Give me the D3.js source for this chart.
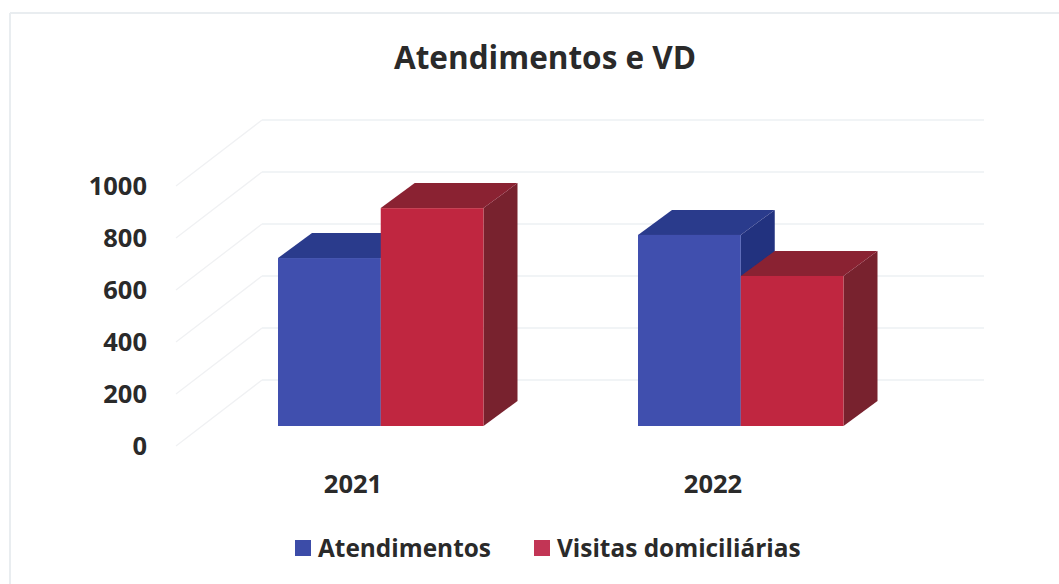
<!DOCTYPE html>
<html><head><meta charset="utf-8">
<script src="https://cdn.jsdelivr.net/npm/d3@7"></script>
<style>html,body{margin:0;padding:0;background:#fff}svg{display:block}
text{font-family:"Open Sans","Noto Sans",sans-serif;fill:#2a2a2a}</style>
</head><body><svg id="c" width="1059" height="584"></svg>
<script>
const title = "Atendimentos e VD";
const categories = ["2021", "2022"];
const seriesNames = ["Atendimentos", "Visitas domiciliárias"];
const atendimentos = [646, 735];
const visitas = [838, 577];
const yTicks = [0, 200, 400, 600, 800, 1000];
const faceColors = ["#3f4fae", "#c0283f"];
const topColors = ["#2c3b8c", "#8a2233"];
const sideColors = ["#22307f", "#78202e"];
const legendColors = ["#3c4ca8", "#c23555"];

const svg = d3.select("#c");
const frame = svg.append("g").attr("stroke","#e9edf0").attr("stroke-width",2);
frame.append("line").attr("x1",10).attr("x2",1059).attr("y1",13).attr("y2",13);
frame.append("line").attr("x1",10).attr("x2",10).attr("y1",13).attr("y2",584);

const defs = svg.append("defs");
defs.append("filter").attr("id","soft").append("feGaussianBlur").attr("stdDeviation",0.6);

const yBack = d3.scaleLinear().domain([0,1000]).range([380,120]);
const yFront = d3.scaleLinear().domain([0,1000]).range([446,186]);
const yBar = d3.scaleLinear().domain([0,1000]).range([426,166]);
const xBand = d3.scaleBand().domain(categories).range([200.5,920.5]);
const xSeries = d3.scaleBand().domain(seriesNames).range([77.5,283]);
const backX = [262,984], wallX = 176, depthX = 34, depthY = 25;

const grid = svg.append("g").attr("fill","none").attr("stroke","#edf0f3").attr("stroke-width",1.3);
yTicks.forEach(t=>{
  grid.append("line").attr("x1",backX[0]).attr("x2",backX[1]).attr("y1",yBack(t)).attr("y2",yBack(t));
  grid.append("line").attr("x1",wallX).attr("x2",backX[0]).attr("y1",yFront(t)).attr("y2",yBack(t)).attr("stroke","#f0f1f3");
});

svg.append("g").selectAll("text").data(yTicks).join("text")
  .attr("x",147).attr("y",t=>yFront(t)).attr("dy","0.36em").attr("text-anchor","end")
  .attr("font-size",25.5).attr("font-weight",700).text(d=>d);

const rows = categories.flatMap((c,i)=>[
  {c,s:0,name:seriesNames[0],v:atendimentos[i]},
  {c,s:1,name:seriesNames[1],v:visitas[i]}
]);
const bars = svg.append("g").attr("filter","url(#soft)");
const g = bars.selectAll("g").data(rows).join("g");
const xL = d=>xBand(d.c)+xSeries(d.name), xR = d=>xL(d)+xSeries.bandwidth();
g.append("path").attr("fill",d=>sideColors[d.s]).attr("d",d=>{
  const r=xR(d),t=yBar(d.v),b=yBar(0);
  return `M${r},${t}L${r+depthX},${t-depthY}L${r+depthX},${b-depthY}L${r},${b}Z`;});
g.append("path").attr("fill",d=>topColors[d.s]).attr("d",d=>{
  const l=xL(d),r=xR(d),t=yBar(d.v);
  return `M${l},${t}L${l+depthX},${t-depthY}L${r+depthX},${t-depthY}L${r},${t}Z`;});
g.append("rect").attr("fill",d=>faceColors[d.s])
  .attr("x",xL).attr("width",xSeries.bandwidth())
  .attr("y",d=>yBar(d.v)).attr("height",d=>yBar(0)-yBar(d.v));

svg.append("g").selectAll("text").data(categories).join("text")
  .attr("x",d=>xBand(d)+xBand.bandwidth()/2-27.5).attr("y",484).attr("dy","0.36em").attr("text-anchor","middle")
  .attr("font-size",25.5).attr("font-weight",700).text(d=>d);

svg.append("text").attr("x",545).attr("y",58).attr("dy","0.36em").attr("text-anchor","middle")
  .attr("font-size",31.5).attr("font-weight",700).text(title);

const legendX = [295,534], labelX = [318,557];
const lg = svg.append("g").selectAll("g").data(seriesNames).join("g");
lg.append("rect").attr("x",(d,i)=>legendX[i]).attr("y",540).attr("width",16).attr("height",16)
  .attr("fill",(d,i)=>legendColors[i]);
lg.append("text").attr("x",(d,i)=>labelX[i]).attr("y",548).attr("dy","0.36em")
  .attr("font-size",24.4).attr("font-weight",700).text(d=>d);
</script></body></html>
